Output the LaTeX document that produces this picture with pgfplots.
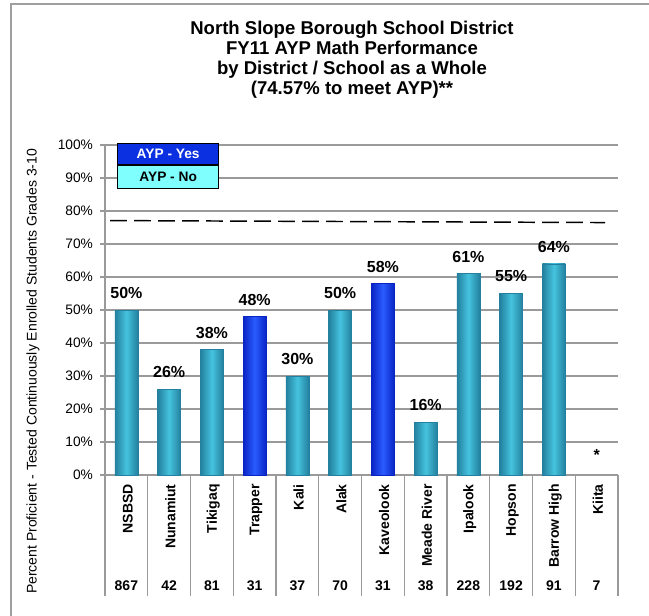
\documentclass[border=0pt]{standalone}
\usepackage{fontspec}
\setmainfont{Liberation Sans}
\usepackage{pgfplots}
\pgfplotsset{compat=1.18}

\definecolor{tealmid}{HTML}{45C3DE}
\definecolor{tealedge}{HTML}{23809E}
\definecolor{bluemid}{HTML}{2A5CFF}
\definecolor{blueedge}{HTML}{0A24C4}
\definecolor{yesbox}{HTML}{0B30E2}
\definecolor{nobox}{HTML}{80FFFF}
\definecolor{gridgray}{HTML}{9A9A9A}

\pgfplotsset{
  aypno/.style={draw=tealedge, left color=tealedge, right color=tealedge, middle color=tealmid},
  aypyes/.style={draw=blueedge, left color=blueedge, right color=blueedge, middle color=bluemid},
}

\begin{document}
\begin{tikzpicture}
% 1 px of the reference = 0.75pt
\useasboundingbox (0,0) rectangle (486.75pt,-461.25pt);
\draw[gray!75, line width=1.5pt] (8.25pt,-470pt) -- (8.25pt,-3pt) -- (495pt,-3pt);

\node[align=center, font=\fontsize{13.9}{15}\selectfont\bfseries] at (264pt,-44.5pt)
  {North Slope Borough School District\\FY11 AYP Math Performance\\by District / School as a Whole\\(74.57\% to meet AYP)**};

\node[rotate=90, font=\fontsize{10.5}{12}\selectfont] at (24.75pt,-278.5pt)
  {Percent Proficient - Tested Continuously Enrolled Students Grades 3-10};

\begin{axis}[
  at={(78.75pt,-356.25pt)}, anchor=south west,
  scale only axis, width=384.75pt, height=247.5pt,
  xmin=-0.5, xmax=11.5, ymin=0, ymax=100,
  ybar, bar width=17.25pt, bar shift=0pt,
  axis x line*=bottom, axis y line*=left,
  axis line style={gridgray, line width=0.9pt, -},
  ytick={0,10,...,100},
  yticklabel={\pgfmathprintnumber{\tick}\%},
  yticklabel style={font=\fontsize{10.3}{12}\selectfont, xshift=-2pt},
  /pgf/number format/assume math mode=true,
  ytick style={gridgray, line width=0.9pt},
  tick align=outside, major tick length=3.5pt,
  ymajorgrids, grid style={gridgray, line width=0.9pt},
  xtick={0,...,11},
  xtick style={draw=none},
  xticklabels={NSBSD,Nunamiut,Tikigaq,Trapper,Kali,Alak,Kaveolook,Meade River,Ipalook,Hopson,Barrow High,Kiita},
  xticklabel style={rotate=90, anchor=east, font=\fontsize{10.5}{12}\selectfont\bfseries, yshift=-1pt},
  nodes near coords={\pgfmathprintnumber{\pgfplotspointmeta}\%},
  every node near coord/.append style={font=\fontsize{12}{14}\selectfont\bfseries, yshift=5pt, black},
  clip=false,
]
% one plot per bar so that each bar gets its own shading
\addplot[aypno]  coordinates {(0,50)};   % NSBSD
\addplot[aypno]  coordinates {(1,26)};   % Nunamiut
\addplot[aypno]  coordinates {(2,38)};   % Tikigaq
\addplot[aypyes] coordinates {(3,48)};   % Trapper
\addplot[aypno]  coordinates {(4,30)};   % Kali
\addplot[aypno]  coordinates {(5,50)};   % Alak
\addplot[aypyes] coordinates {(6,58)};   % Kaveolook
\addplot[aypno]  coordinates {(7,16)};   % Meade River
\addplot[aypno]  coordinates {(8,61)};   % Ipalook
\addplot[aypno]  coordinates {(9,55)};   % Hopson
\addplot[aypno]  coordinates {(10,64)};  % Barrow High
% AYP target line
\addplot[sharp plot, forget plot, nodes near coords={}, fill=none, draw=black,
  dash pattern=on 12.5pt off 5.5pt, line width=1.1pt]
  coordinates {(-0.38,77.1) (11.2,76.5)};

\node[font=\fontsize{12}{14}\selectfont\bfseries] at (axis cs:11,6) {*};

\pgfplotsinvokeforeach{-0.5,0.5,...,11.5}{
  \draw[gridgray, line width=0.9pt] (axis cs:#1,0) -- ([yshift=-90.75pt]axis cs:#1,0);
}
\pgfplotsforeachungrouped \i/\n in {0/867,1/42,2/81,3/31,4/37,5/70,6/31,7/38,8/228,9/192,10/91,11/7}{
  \edef\tmp{\noexpand\node[font=\noexpand\fontsize{10.5}{12}\noexpand\selectfont\noexpand\bfseries] at (axis cs:\i,0) [yshift=-83.25pt] {\n};}
  \tmp
}
\end{axis}

\node[draw=black, line width=1pt, fill=yesbox, text=white, minimum width=75.75pt, minimum height=15.75pt,
  inner sep=0pt, anchor=north west, font=\fontsize{10.3}{12}\selectfont\bfseries] at (87.75pt,-107.25pt) {AYP - Yes};
\node[draw=black, line width=1pt, fill=nobox, text=black, minimum width=75.75pt, minimum height=17pt,
  inner sep=0pt, anchor=north west, font=\fontsize{10.3}{12}\selectfont\bfseries] at (87.75pt,-123.75pt) {AYP - No};
\end{tikzpicture}
\end{document}
